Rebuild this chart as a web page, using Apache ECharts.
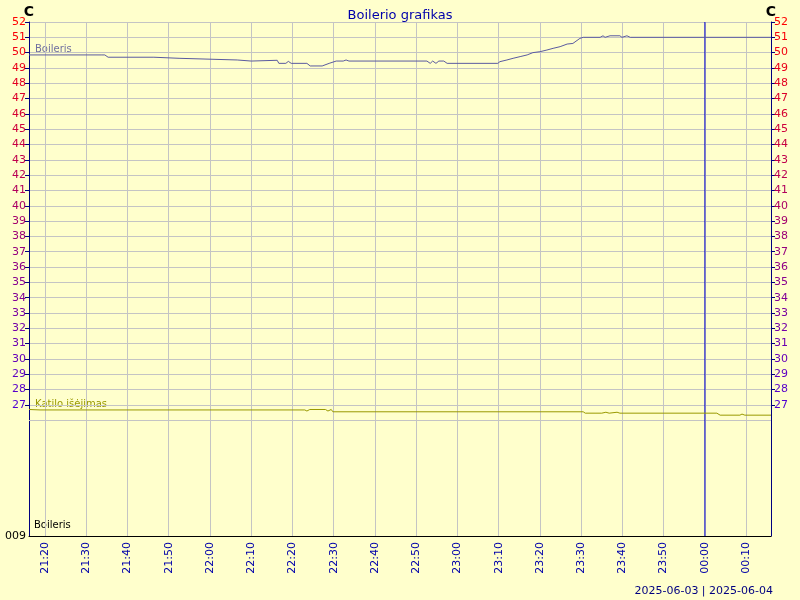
<!DOCTYPE html>
<html>
<head>
<meta charset="utf-8">
<script src="https://cdn.jsdelivr.net/npm/echarts@6/dist/echarts.min.js"></script>
<style>
html,body{margin:0;padding:0;background:#ffffcc;}
#chart{width:800px;height:600px;}
</style>
</head>
<body>
<div id="chart"></div>
<script>
// ---- data ----
const boilerisTimes = ['21:16:07','21:33:36','21:34:00','21:34:30','21:35:18','21:46:24','21:46:42','21:52:30','21:52:42','22:06:36','22:06:48','22:10:00','22:10:12','22:16:18','22:16:42','22:18:24','22:19:00','22:19:42','22:23:30','22:24:18','22:27:12','22:28:54','22:30:36','22:32:18','22:33:00','22:33:42','22:52:36','22:53:24','22:54:00','22:54:48','22:55:30','22:56:42','22:57:30','23:09:48','23:10:18','23:12:00','23:13:30','23:15:12','23:16:54','23:18:18','23:20:00','23:21:42','23:23:12','23:24:54','23:26:36','23:28:00','23:29:42','23:30:30','23:34:36','23:35:18','23:35:48','23:37:00','23:39:24','23:39:54','23:41:06','23:41:54','00:16:02'];
const boilerisValues = [49.85,49.85,49.76,49.85,49.70,49.70,49.63,49.63,49.52,49.52,49.45,49.45,49.50,49.50,49.30,49.30,49.43,49.30,49.30,49.13,49.13,49.30,49.45,49.45,49.52,49.45,49.45,49.30,49.45,49.30,49.45,49.45,49.30,49.30,49.41,49.52,49.63,49.74,49.85,50.00,50.06,50.17,50.28,50.39,50.56,50.60,50.93,51.00,51.00,51.10,51.00,51.10,51.10,51.00,51.10,51.00,51.00];
const katiloTimes = ['21:16:07','21:18:48','22:23:00','22:23:30','22:24:12','22:28:00','22:28:36','22:29:24','22:29:48','23:30:30','23:31:00','23:33:36','23:34:00','23:35:00','23:36:00','23:36:48','23:38:42','23:39:24','00:02:54','00:03:42','00:08:30','00:09:00','00:09:42','00:16:02'];
const katiloValues = [26.70,26.67,26.67,26.60,26.70,26.70,26.60,26.70,26.55,26.55,26.46,26.46,26.52,26.46,26.52,26.46,26.52,26.46,26.46,26.33,26.33,26.40,26.33,26.33];
const xTickLabels = ['21:20','21:30','21:40','21:50','22:00','22:10','22:20','22:30','22:40','22:50','23:00','23:10','23:20','23:30','23:40','23:50','00:00','00:10'];
const yTickValues = [27,28,29,30,31,32,33,34,35,36,37,38,39,40,41,42,43,44,45,46,47,48,49,50,51,52];
const extraGridValue = 26;
const yMin = 18.44, yMax = 52;
const xStart = '21:16:07', xEnd = '00:16:02', dayChange = '00:00';
const dates = ['2025-06-03', '2025-06-04'];

function toSec(t) {
  const p = t.split(':').map(Number);
  let s = p[0] * 3600 + p[1] * 60 + (p[2] || 0);
  if (p[0] < 12) s += 24 * 3600;
  return s - 21 * 3600;
}
function pad(n){return (n<10?'0':'')+n;}
function secToLabel(v) {
  let s = Math.round(v) + 21 * 3600;
  s = s % (24 * 3600);
  return pad(Math.floor(s / 3600)) + ':' + pad(Math.floor((s % 3600) / 60));
}

const boilerisData = boilerisTimes.map((t, i) => [toSec(t), boilerisValues[i]]);
const katiloData = katiloTimes.map((t, i) => [toSec(t), katiloValues[i]]);
const dayLineData = [[toSec(dayChange), yMin], [toSec(dayChange), yMax]];
const xTicks = xTickLabels.map(toSec);

function labelColor(v) {
  v = Number(v);
  if (v < 26) return '#000000';
  const t = (52 - v) / 25;
  const r = Math.round(255 + (80 - 255) * t);
  const b = Math.round(210 * t);
  return 'rgb(' + r + ',0,' + b + ')';
}
function yFmt(v) { return v < 26 ? '009' : String(Math.round(v)); }

const font = 'DejaVu Sans';
const gridColor = 'rgb(196,196,196)';
const yAxisBase = {
  type: 'value', min: yMin, max: yMax,
  axisLine: { show: true, lineStyle: { color: 'rgb(0,0,128)', width: 1 } },
  axisTick: { show: true, length: 4, customValues: yTickValues, lineStyle: { color: 'rgb(0,0,128)' } },
  axisLabel: { customValues: [yMin].concat(yTickValues), formatter: yFmt, color: labelColor, fontSize: 11, fontFamily: font, margin: 3 },
  splitLine: { show: false }
};

const chart = echarts.init(document.getElementById('chart'), null, { renderer: 'canvas' });
chart.setOption({
  animation: false,
  backgroundColor: '#ffffcc',
  title: {
    text: 'Boilerio grafikas', left: 'center', top: 4,
    textStyle: { color: '#0000aa', fontSize: 13, fontWeight: 'normal', fontFamily: font }
  },
  grid: { left: 29, right: 29, top: 22, bottom: 64, containLabel: false },
  xAxis: {
    type: 'value', min: toSec(xStart), max: toSec(xEnd),
    axisLine: { show: true, onZero: false, lineStyle: { color: 'rgb(0,0,0)', width: 1 } },
    axisTick: { show: false, customValues: xTicks },
    axisLabel: {
      customValues: xTicks, rotate: 90, margin: 6,
      color: '#0000aa', fontSize: 11, fontFamily: font,
      formatter: secToLabel
    },
    splitLine: { show: true, lineStyle: { color: gridColor, width: 1 } }
  },
  yAxis: [
    Object.assign({}, yAxisBase, { position: 'left', splitLine: { show: true, lineStyle: { color: gridColor, width: 1 } } }),
    Object.assign({}, yAxisBase, { position: 'right', axisLabel: Object.assign({}, yAxisBase.axisLabel, { customValues: yTickValues }) })
  ],
  series: [
    {
      name: 'dayChange', type: 'line', data: dayLineData, showSymbol: false, symbol: 'none', z: 2,
      lineStyle: { color: 'rgb(0,0,204)', width: 1 }, itemStyle: { color: 'rgb(0,0,204)' }, silent: true
    },
    {
      name: 'Boileris', type: 'line', data: boilerisData, showSymbol: false, symbol: 'none', z: 3,
      lineStyle: { color: '#5a5aa0', width: 1 }, itemStyle: { color: '#5a5aa0' }
    },
    {
      name: 'Katilo išėjimas', type: 'line', data: katiloData, showSymbol: false, symbol: 'none', z: 3,
      lineStyle: { color: '#999900', width: 1 }, itemStyle: { color: '#999900' },
      markLine: {
        silent: true, symbol: ['none', 'none'], label: { show: false }, z: 1,
        lineStyle: { color: gridColor, width: 1, type: 'solid', opacity: 1 },
        emphasis: { disabled: true },
        data: [{ yAxis: extraGridValue }]
      }
    }
  ],
  graphic: [
    { type: 'text', x: 29, y: 5, style: { text: 'C', fill: '#000', font: 'bold 14px DejaVu Sans', align: 'center' } },
    { type: 'text', x: 771, y: 5, style: { text: 'C', fill: '#000', font: 'bold 14px DejaVu Sans', align: 'center' } },
    { type: 'text', left: 35, top: 44, style: { text: 'Boileris', fill: '#7070a0', font: '10px DejaVu Sans' } },
    { type: 'text', left: 35, top: 399, style: { text: 'Katilo išėjimas', fill: '#999900', font: '10px DejaVu Sans' } },
    { type: 'text', left: 34, top: 520, style: { text: 'Boileris', fill: '#000000', font: '10px DejaVu Sans' } },
    { type: 'text', right: 27, top: 586, style: { text: dates[0] + ' | ' + dates[1], fill: '#000080', font: '11px DejaVu Sans' } }
  ]
});
</script>
</body>
</html>
